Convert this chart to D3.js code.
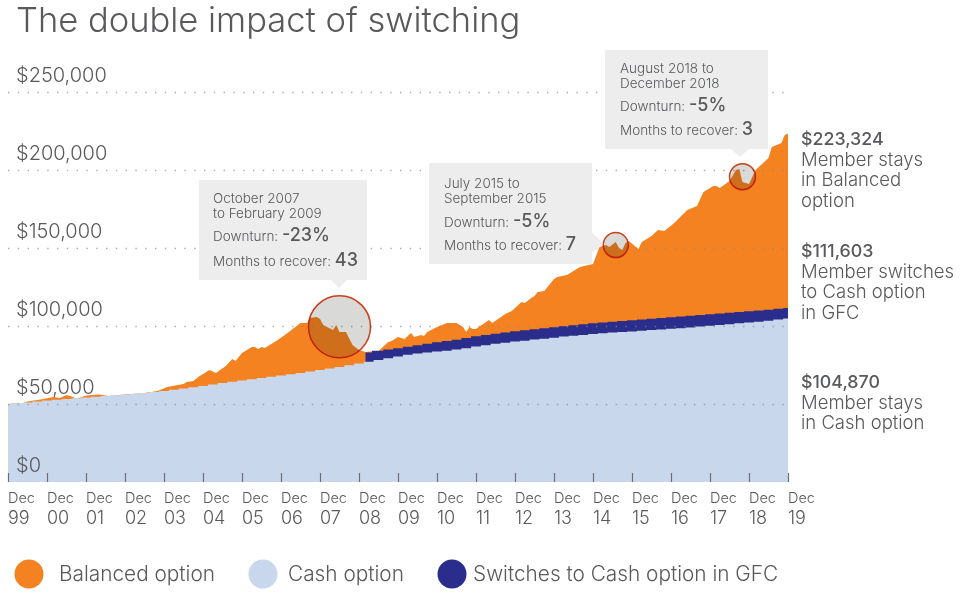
<!DOCTYPE html>
<html>
<head>
<meta charset="utf-8">
<style>
body { margin: 0; background: #fff; }
svg { display: block; }
text { font-family: Inter, sans-serif; font-weight: 300; fill: #58595b; }
.value { font-weight: 500; }
</style>
</head>
<body>
<svg width="960" height="594"></svg>
<script src="https://cdn.jsdelivr.net/npm/d3@7"></script>
<script>

// months since Dec 1999, values in dollars
var balancedMonths = [0,3,4,6,10,14,16,18,20,21,24,28,31,36,42,46,49,54,55,57,59,62,64,67,69,70,72,75,76,77,78,79,83,86,90,92,93,95,96,97,100,101,102,104,106,108,110,113,114,117,118,120,122,124,125,127,128,129,132,135,138,140,141,142,143,144,148,149,153,155,158,159,161,162,163,165,168,169,172,176,180,182,184,185,187,188,189,190,191,194,195,198,200,202,205,209,212,214,217,218,219,222,224,225,226,228,230,234,235,238,239,240];
var balancedValues = [50000,50600,50000,51600,52900,54500,53800,55800,54500,53200,55400,56100,55100,56100,57100,58300,60900,62800,64100,64700,67900,71800,69900,74400,78800,77600,82700,86500,86500,85300,86500,85900,91000,95500,101900,101900,105100,105800,104500,100600,97400,100600,96200,96200,87800,84600,83300,84000,84000,89700,90400,92900,91700,95500,92900,94200,93600,96200,99400,101900,101900,99400,96200,99400,98100,98100,103800,101900,107700,109600,115400,114700,117900,119200,121800,122400,130100,131400,132700,137800,139700,150600,151900,150600,153800,150000,148700,153200,154500,149400,153800,157700,161500,160900,166000,174400,176900,185900,189700,189700,188500,192900,200000,200600,192300,191000,200000,207700,214700,217300,222400,223324];

var cashMonths = d3.range(0, 241, 3);
var cashValues = [50000,50500,51000,51600,52200,52700,53200,53700,54200,54600,55100,55600,56100,56600,57100,57700,58300,59100,59900,60700,61500,62500,63500,64300,65100,65900,66700,67500,68300,69100,69900,70800,71800,72700,73700,74800,76000,77100,78200,79300,80400,81500,82400,83000,83600,84200,84900,85800,86800,87700,88700,89300,90000,90600,91300,91900,92500,93200,93800,94300,94800,95300,95800,96100,96400,96900,97400,97800,98300,98600,99000,99600,100200,100700,101200,101700,102200,102700,103300,104100,104870];

var switchMonths = [110].concat(d3.range(114, 241, 3));
var switchValues = [83000,84200,85000,85800,86700,87700,88600,89600,90400,91200,92300,93400,94300,95100,95900,96700,97300,97900,98500,99200,99800,100500,101200,101800,102200,102700,103200,103700,104200,104700,105100,105600,106100,106600,107100,107600,108000,108500,109000,109500,109900,110400,111000,111603];

var yTicks = [0, 50000, 100000, 150000, 200000, 250000];
var xTickMonths = d3.range(0, 241, 12);
var xTickYears = ["99","00","01","02","03","04","05","06","07","08","09","10","11","12","13","14","15","16","17","18","19"];

var legendLabels = ["Balanced option", "Cash option", "Switches to Cash option in GFC"];
var legendColors = ["#f58220", "#c8d7ec", "#2b2d8c"];

var endValues = ["$223,324", "$111,603", "$104,870"];
var endLines = [["Member stays", "in Balanced", "option"], ["Member switches", "to Cash option", "in GFC"], ["Member stays", "in Cash option"]];

var calloutDates = [["October 2007", "to February 2009"], ["July 2015 to", "September 2015"], ["August 2018 to", "December 2018"]];
var calloutDownturn = ["-23%", "-5%", "-5%"];
var calloutRecover = ["43", "7", "3"];
var calloutMonths = [102, 187, 226];
var calloutValues = [99500, 151900, 195700];

var svg = d3.select("svg");

var x = d3.scaleLinear().domain([0, 240]).range([8, 788]);
var y = d3.scaleLinear().domain([0, 250000]).range([482, 92]);

function areaFor(months, values, curve) {
    var a = d3.area()
        .x(function(d, i) { return x(months[i]); })
        .y0(y(0))
        .y1(function(d) { return y(d); })
        .curve(curve);
    return a(values);
}

svg.append("path").attr("d", areaFor(balancedMonths, balancedValues, d3.curveLinear)).attr("fill", legendColors[0]);
svg.append("path").attr("d", areaFor(switchMonths, switchValues, d3.curveStep)).attr("fill", legendColors[2]);
svg.append("path").attr("d", areaFor(cashMonths, cashValues, d3.curveStep)).attr("fill", legendColors[1]);

// title
svg.append("text").attr("x", 16).attr("y", 32).attr("font-size", 34.5).text("The double impact of switching");

// y axis, the ticks are the dotted grid lines
var yAxis = svg.append("g")
    .attr("transform", "translate(8,0)")
    .call(d3.axisRight(y).tickValues(yTicks).tickSize(780).tickFormat(function(d) { return "$" + d3.format(",")(d); }));
yAxis.select(".domain").remove();
yAxis.selectAll(".tick line")
    .attr("stroke", "#8a8a8a")
    .attr("stroke-opacity", 0.7)
    .attr("stroke-width", 1.4)
    .attr("stroke-dasharray", "1.4 8.4")
    .filter(function(d) { return d == 0; }).remove();
yAxis.selectAll(".tick text")
    .attr("x", 8)
    .attr("dy", -11)
    .attr("font-size", 20)
    .style("font-family", "Inter, sans-serif")
    .attr("fill", "#58595b");

// x axis, ticks stand inside the plot
var xAxis = svg.append("g")
    .attr("transform", "translate(0,482)")
    .call(d3.axisBottom(x).tickValues(xTickMonths).tickSize(-9).tickFormat(""));
xAxis.select(".domain").remove();
xAxis.selectAll(".tick line").attr("stroke", "#6d6e71").attr("stroke-width", 1.2);
xAxis.selectAll(".tick text").remove();

xTickMonths.forEach(function(m, i) {
    svg.append("text").attr("x", x(m)).attr("y", 502.5).attr("font-size", 14.5).text("Dec");
    svg.append("text").attr("x", x(m)).attr("y", 523.5).attr("font-size", 18).text(xTickYears[i]);
});

// callout boxes: left, top, width, height, pointer, text left
function callout(i, bx, by, bw, bh, pointer, tx, baselines) {
    svg.append("rect").attr("x", bx).attr("y", by).attr("width", bw).attr("height", bh).attr("fill", "#ededed");
    svg.append("path").attr("d", d3.line()(pointer)).attr("fill", "#ededed");
    calloutDates[i].forEach(function(s, j) {
        svg.append("text").attr("x", tx).attr("y", baselines[j]).attr("font-size", 13.5).text(s);
    });
    var t1 = svg.append("text").attr("x", tx).attr("y", baselines[2]).attr("font-size", 13.5);
    t1.append("tspan").text("Downturn: ");
    t1.append("tspan").attr("class", "value").attr("font-size", 18).text(calloutDownturn[i]);
    var t2 = svg.append("text").attr("x", tx).attr("y", baselines[3]).attr("font-size", 13.5);
    t2.append("tspan").text("Months to recover: ");
    t2.append("tspan").attr("class", "value").attr("font-size", 18).text(calloutRecover[i]);
}
callout(0, 199, 180, 168, 100, [[331, 280], [347, 280], [339, 288]], 213, [203, 218, 241, 266]);
callout(1, 429, 163, 163, 101, [[592, 233], [592, 253], [603, 243]], 444, [188, 202.5, 226.5, 250]);
callout(2, 605, 50, 163, 99, [[731, 149], [749, 149], [740, 157]], 620, [73, 88, 111, 135]);

// magnifier circles
var radii = [31, 12.5, 13];
calloutMonths.forEach(function(m, i) {
    svg.append("circle")
        .attr("cx", x(m))
        .attr("cy", y(calloutValues[i]))
        .attr("r", radii[i])
        .attr("fill", "#d9d9d7")
        .attr("stroke", "#c9401c")
        .attr("stroke-width", 1.5)
        .style("mix-blend-mode", "multiply");
});

// end labels
var endBase = [145, 257, 388];
endValues.forEach(function(v, i) {
    svg.append("text").attr("class", "value").attr("x", 801).attr("y", endBase[i]).attr("font-size", 17.8).text(v);
    endLines[i].forEach(function(s, j) {
        svg.append("text").attr("x", 801).attr("y", endBase[i] + 20.5 * (j + 1)).attr("font-size", 18.5).text(s);
    });
});

// legend
var legendDot = [29, 263, 452];
var legendText = [59, 288, 473];
legendLabels.forEach(function(s, i) {
    svg.append("circle").attr("cx", legendDot[i]).attr("cy", 574).attr("r", 14.5).attr("fill", legendColors[i]);
    svg.append("text").attr("x", legendText[i]).attr("y", 581).attr("font-size", 20.8).text(s);
});

</script>
</body>
</html>
